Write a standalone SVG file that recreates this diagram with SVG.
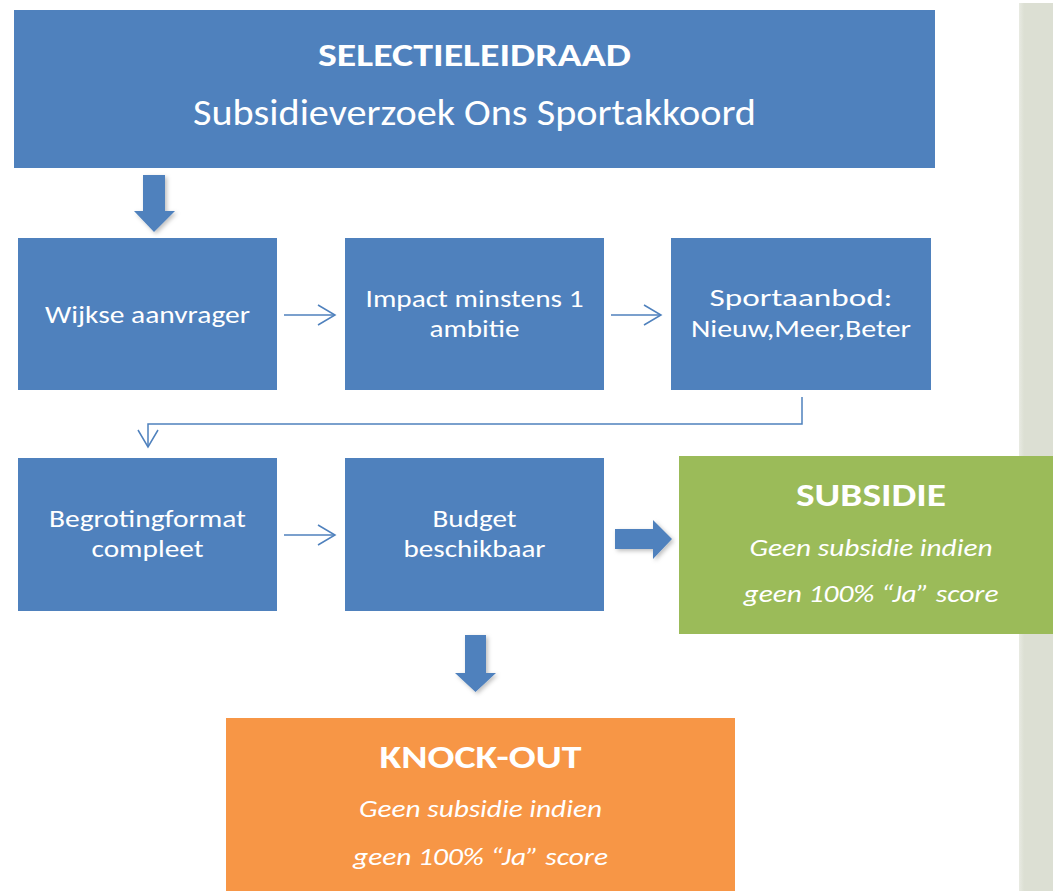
<svg xmlns="http://www.w3.org/2000/svg" width="1053" height="891" viewBox="0 0 1053 891">
<style>
  .box{fill:#4f81bd}
  .t{font-family:Carlito,Lato,"Open Sans",sans-serif;fill:#ffffff;text-anchor:middle}
  .bt{font-size:25.5px}
  .title{font-size:33px;font-weight:bold}
  .sub{font-size:37px}
  .head{font-size:32px;font-weight:bold}
  .it{font-size:24px;font-style:italic}
  .thin{fill:none;stroke:#4f81bd;stroke-width:1.5}
  .thick{fill:#4f81bd;filter:url(#sh)}
</style>
<defs>
  <marker id="chev" markerUnits="userSpaceOnUse" markerWidth="22" markerHeight="24" refX="18" refY="11" orient="auto" viewBox="0 0 22 24">
    <path d="M1,1 L18,11 L1,21" fill="none" stroke="#4f81bd" stroke-width="1.5"/>
  </marker>
  <filter id="sh" x="-30%" y="-30%" width="160%" height="160%">
    <feDropShadow dx="2" dy="2" stdDeviation="2" flood-color="#000" flood-opacity="0.25"/>
  </filter>
  <linearGradient id="pg" x1="0" y1="0" x2="1" y2="0">
    <stop offset="0" stop-color="#e8eae2"/>
    <stop offset="0.15" stop-color="#dcdfd3"/>
    <stop offset="1" stop-color="#dcdfd3"/>
  </linearGradient>
</defs>
<rect x="0" y="0" width="1053" height="891" fill="#ffffff"/>
<rect x="1019" y="3" width="34" height="888" fill="url(#pg)"/>

<g id="connectors">
  <polygon class="thick" points="143,175 165,175 165,211 175,211 154,232 134,211 143,211"/>
  <line class="thin" x1="284" y1="315" x2="335" y2="315" marker-end="url(#chev)"/>
  <line class="thin" x1="611" y1="315" x2="661" y2="315" marker-end="url(#chev)"/>
  <polyline class="thin" points="802,397 802,424 148,424 148,447" marker-end="url(#chev)"/>
  <line class="thin" x1="284" y1="535" x2="335" y2="535" marker-end="url(#chev)"/>
  <polygon class="thick" points="615,529 653,529 653,520 672,539 653,559 653,549 615,549"/>
  <polygon class="thick" points="465,635 486,635 486,673 496,673 475.5,692 455,673 465,673"/>
</g>

<g id="n-title">
  <rect class="box" x="14" y="10" width="921" height="158"/>
  <text class="t title" x="474.5" y="66" textLength="313" lengthAdjust="spacingAndGlyphs">SELECTIELEIDRAAD</text>
  <text class="t sub" x="474.5" y="125" textLength="563" lengthAdjust="spacingAndGlyphs">Subsidieverzoek Ons Sportakkoord</text>
</g>

<g id="n-wijkse">
  <rect class="box" x="18" y="238" width="259" height="152"/>
  <text class="t bt" x="147.5" y="323" textLength="205" lengthAdjust="spacingAndGlyphs">Wijkse aanvrager</text>
</g>

<g id="n-impact">
  <rect class="box" x="345" y="238" width="259" height="152"/>
  <text class="t bt" x="474.5" y="307" textLength="218" lengthAdjust="spacingAndGlyphs">Impact minstens 1</text>
  <text class="t bt" x="474.5" y="337" textLength="90" lengthAdjust="spacingAndGlyphs">ambitie</text>
</g>

<g id="n-sportaanbod">
  <rect class="box" x="671" y="238" width="260" height="152"/>
  <text class="t bt" x="801" y="306" textLength="183" lengthAdjust="spacingAndGlyphs">Sportaanbod:</text>
  <text class="t bt" x="801" y="337" textLength="220" lengthAdjust="spacingAndGlyphs">Nieuw,Meer,Beter</text>
</g>

<g id="n-begroting">
  <rect class="box" x="18" y="458" width="259" height="153"/>
  <text class="t bt" x="147.5" y="527" textLength="197" lengthAdjust="spacingAndGlyphs">Begrotingformat</text>
  <text class="t bt" x="147.5" y="557" textLength="112" lengthAdjust="spacingAndGlyphs">compleet</text>
</g>

<g id="n-budget">
  <rect class="box" x="345" y="458" width="259" height="153"/>
  <text class="t bt" x="474.5" y="527" textLength="84" lengthAdjust="spacingAndGlyphs">Budget</text>
  <text class="t bt" x="474.5" y="557" textLength="142" lengthAdjust="spacingAndGlyphs">beschikbaar</text>
</g>

<g id="n-subsidie">
  <rect x="679" y="456" width="374" height="178" fill="#9bbb59"/>
  <text class="t head" x="871" y="506" textLength="150" lengthAdjust="spacingAndGlyphs">SUBSIDIE</text>
  <text class="t it" x="871" y="556" textLength="243" lengthAdjust="spacingAndGlyphs">Geen subsidie indien</text>
  <text class="t it" x="871" y="602" textLength="255" lengthAdjust="spacingAndGlyphs">geen 100% “Ja” score</text>
</g>

<g id="n-knockout">
  <rect x="226" y="718" width="509" height="173" fill="#f79646"/>
  <text class="t head" x="480.5" y="768" textLength="202" lengthAdjust="spacingAndGlyphs">KNOCK-OUT</text>
  <text class="t it" x="480.5" y="817" textLength="243" lengthAdjust="spacingAndGlyphs">Geen subsidie indien</text>
  <text class="t it" x="480.5" y="865" textLength="255" lengthAdjust="spacingAndGlyphs">geen 100% “Ja” score</text>
</g>
</svg>
